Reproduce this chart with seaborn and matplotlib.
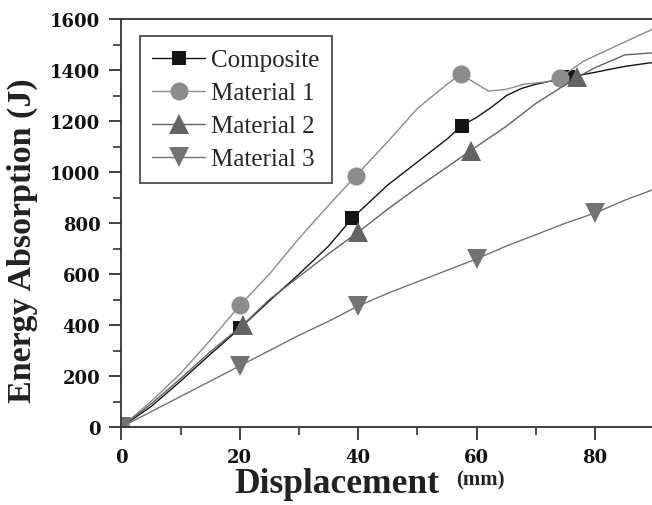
import matplotlib
matplotlib.use('Agg')

import pandas as pd
import seaborn as sns
import matplotlib.pyplot as plt
from matplotlib.ticker import MultipleLocator

# values
comp_x = [0, 5, 10, 15, 20, 25, 30, 35, 39, 45, 50, 55, 57.5, 60, 62.5, 65, 67.5, 70, 75.5, 80, 85, 89.6]
comp_y = [0, 80, 180, 285, 387, 495, 600, 710, 820, 950, 1040, 1130, 1183, 1215, 1255, 1300, 1328, 1345, 1372, 1392, 1415, 1430]
comp_mk = [0, 4, 8, 12, 18]

m1_x = [0, 5, 10, 15, 20, 25, 30, 35, 39.6, 45, 50, 55, 57.3, 59, 62, 65, 68, 72, 74, 78, 84, 89.6]
m1_y = [0, 100, 210, 340, 477, 600, 740, 870, 986, 1120, 1250, 1345, 1385, 1360, 1318, 1325, 1345, 1355, 1369, 1435, 1500, 1560]
m1_mk = [0, 4, 8, 12, 18]

m2_x = [0, 5, 10, 15, 20.5, 25, 30, 35, 40, 45, 50, 55, 59, 65, 70, 77, 80, 85, 89.6]
m2_y = [0, 90, 190, 295, 400, 500, 590, 680, 765, 855, 940, 1020, 1085, 1180, 1270, 1373, 1410, 1460, 1468]
m2_mk = [0, 4, 8, 12, 15]

m3_x = [0, 5, 10, 15, 20, 25, 30, 35, 40, 45, 50, 55, 60, 65, 70, 75, 80, 85, 89.6]
m3_y = [0, 60, 120, 180, 240, 300, 360, 415, 475, 525, 570, 615, 660, 710, 755, 800, 840, 890, 930]
m3_mk = [0, 4, 8, 12, 16]

series = [
    ('Composite', comp_x, comp_y, comp_mk, 's', '#141414', 10.5),
    ('Material 1', m1_x, m1_y, m1_mk, 'o', '#8c8c8c', 13),
    ('Material 2', m2_x, m2_y, m2_mk, '^', '#636363', 15),
    ('Material 3', m3_x, m3_y, m3_mk, 'v', '#737373', 15),
]

sns.set_style('ticks')
plt.rcParams['font.family'] = ['Liberation Serif', 'DejaVu Serif']

fig = plt.figure(figsize=(6.52, 5.06), dpi=100)
ax = fig.add_axes([0.186, 0.154, 0.814, 0.806])

for name, xs, ys, mk, marker, color, ms in series:
    df = pd.DataFrame({'x': xs, 'y': ys})
    sns.lineplot(data=df, x='x', y='y', ax=ax, color=color, lw=1.0, label=name,
                 marker=marker, markersize=ms, markevery=mk, markeredgewidth=0,
                 markerfacecolor=color, sort=False)

ax.set_xlim(0, 89.6)
ax.set_ylim(0, 1600)
ax.xaxis.set_major_locator(MultipleLocator(20))
ax.xaxis.set_minor_locator(MultipleLocator(10))
ax.yaxis.set_major_locator(MultipleLocator(200))
ax.yaxis.set_minor_locator(MultipleLocator(100))
ax.tick_params(which='major', length=9, width=1.3, color='#333333', pad=6)
ax.tick_params(which='minor', length=6, width=1.2, color='#333333')
for lab in ax.get_xticklabels() + ax.get_yticklabels():
    lab.set_fontfamily('DejaVu Serif')
    lab.set_fontweight('bold')
    lab.set_fontsize(13)
    lab.set_color('#111111')

ax.spines['right'].set_visible(False)
for s in ['left', 'bottom', 'top']:
    ax.spines[s].set_color('#333333')
    ax.spines[s].set_linewidth(1.3)

ax.set_xlabel('')
ax.set_ylabel('Energy Absorption (J)', fontsize=24.5, fontweight='bold', color='#222222')
ax.yaxis.set_label_coords(-0.156, 0.46)
fig.text(0.516, 0.025, 'Displacement', fontsize=25.5, fontweight='bold', color='#222222', ha='center')
fig.text(0.700, 0.04, '(mm)', fontsize=15, fontweight='bold', color='#222222', ha='left')

leg = ax.legend(loc='upper left', bbox_to_anchor=(0.035, 0.958), borderaxespad=0,
                fontsize=18, frameon=True, fancybox=False, edgecolor='#222222',
                handlelength=2.1, handletextpad=0.25, labelspacing=0.42, borderpad=0.5)
leg.get_frame().set_linewidth(1.3)

plt.savefig('out.png', dpi=100)
